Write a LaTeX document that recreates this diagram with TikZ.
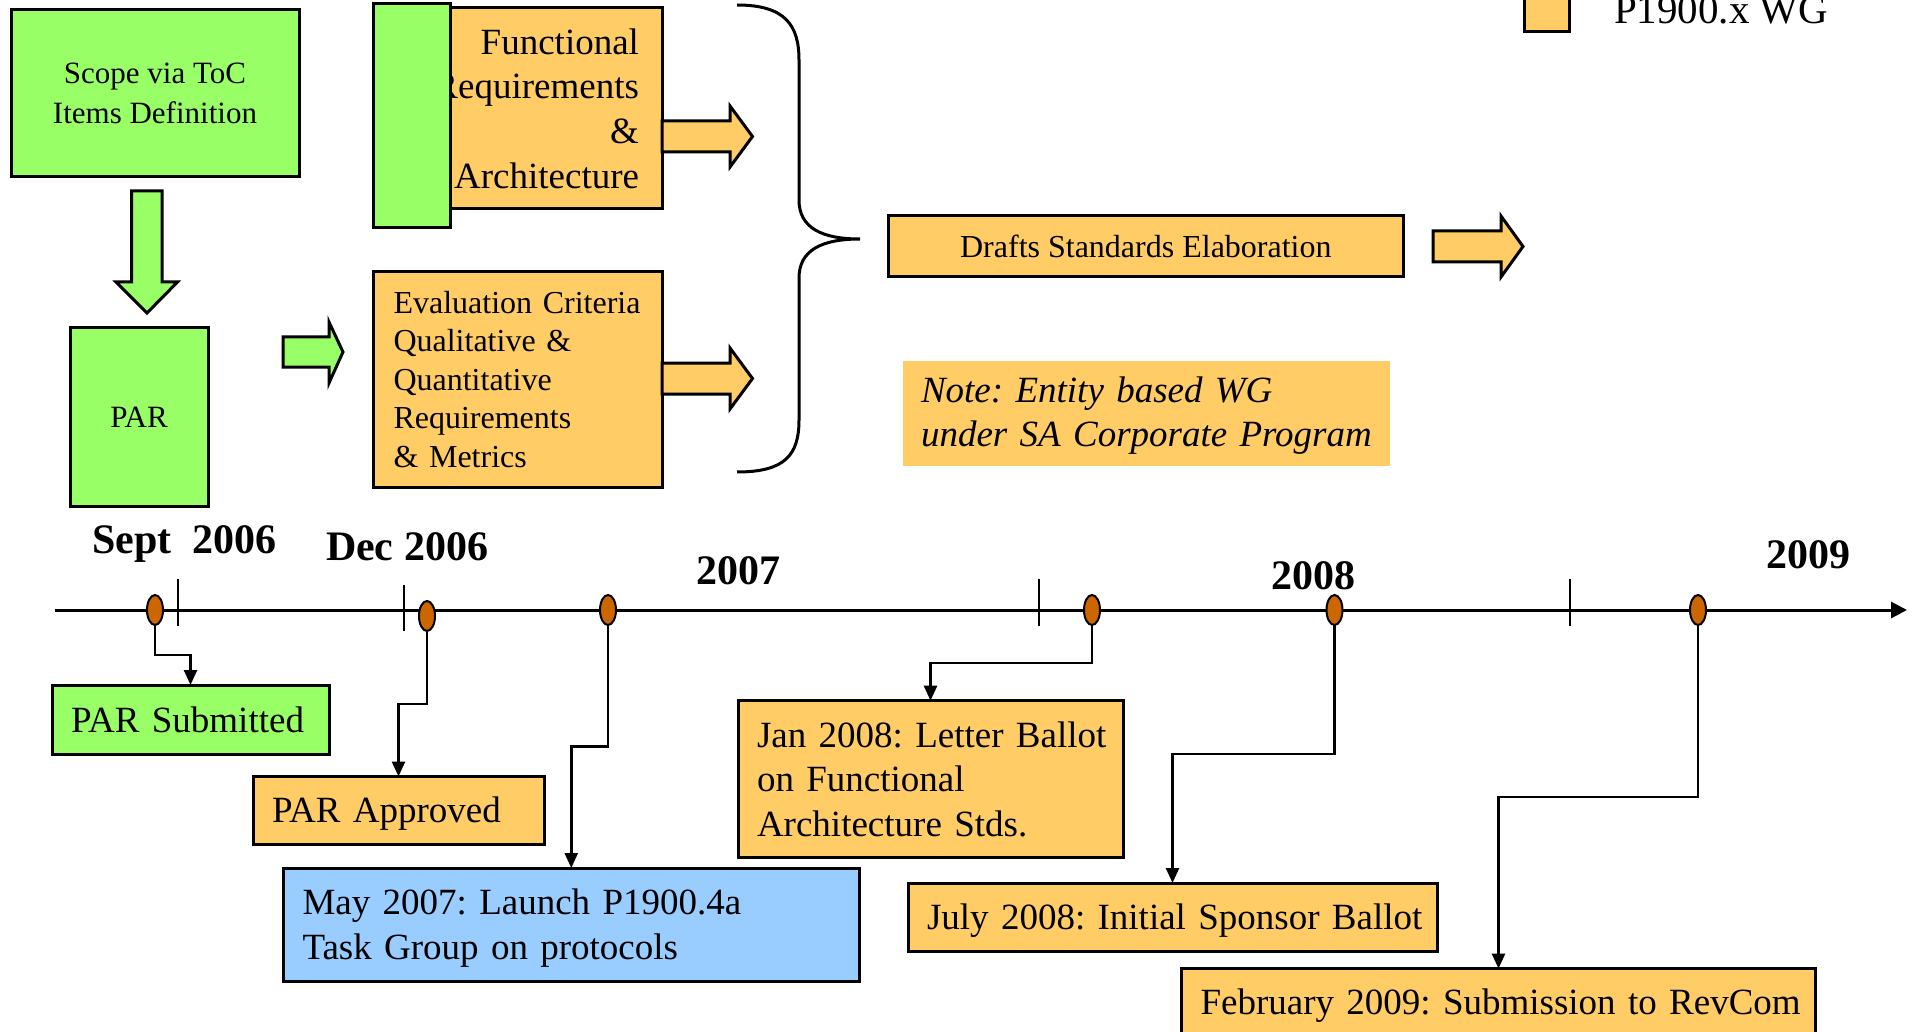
\documentclass[tikz,border=0pt]{standalone}
\usepackage{fontspec}
\setmainfont{Liberation Serif}
\usetikzlibrary{arrows.meta,calc,shapes.geometric}

\definecolor{leafgreen}{HTML}{99FF66}
\definecolor{amber}{HTML}{FFCC66}
\definecolor{skyblue}{HTML}{99CCFF}
\definecolor{rust}{HTML}{CC6600}

% font size in points with a given baseline skip
\newcommand{\pxfont}[2]{\fontsize{#1}{#2}\selectfont}
% one unbreakable line of text
\newcommand{\oneline}[1]{\mbox{#1}}

\begin{document}
\frenchspacing
\begin{tikzpicture}[x=1pt,y=-1pt,
  every node/.style={outer sep=0pt},
  panel/.style={rectangle,draw=black,line width=3pt,inner sep=0pt,anchor=north west},
  greenpanel/.style={panel,fill=leafgreen},
  amberpanel/.style={panel,fill=amber},
  bluepanel/.style={panel,fill=skyblue},
  eventbox/.style={inner xsep=19pt,inner ysep=0pt,align=left,font=\pxfont{37}{44.5},text height=29pt},
  blockarrow/.style={draw=black,line width=3pt,line join=miter},
  year/.style={font=\pxfont{42}{50}\bfseries,inner sep=0pt,anchor=base west},
  milestone/.style={ellipse,draw=black,line width=2pt,fill=rust,minimum width=16pt,minimum height=30pt,inner sep=0pt},
  tickmark/.style={line width=2pt},
  link/.style={line width=2.5pt,-{Triangle[length=15pt,width=13pt]}},
]
\useasboundingbox (0,0) rectangle (1912,1032);
\clip (0,0) rectangle (1912,1032);

% ---------- upper process flow ----------
\node[greenpanel,minimum width=288pt,minimum height=167pt,align=center,font=\pxfont{31}{40}] (scope) at (11,10) {Scope via ToC\\Items Definition};

\draw[blockarrow,fill=leafgreen] (131.6,191) -- (162,191) -- (162,282) -- (177.5,282) -- (147,313) -- (116,282) -- (131.6,282) -- cycle;

\node[greenpanel,minimum width=138pt,minimum height=178pt,font=\pxfont{31}{38}] (par) at (70,328) {PAR};

\draw[blockarrow,fill=leafgreen] (283,337) -- (329,337) -- (329,322) -- (343,352) -- (329,383) -- (329,367) -- (283,367) -- cycle;

\node[amberpanel,minimum width=289pt,minimum height=201pt,text width=243pt,inner xsep=23pt,align=right,font=\pxfont{37}{44.7}] (func) at (373,8) {Functional\\Requirements\\\&\\Architecture};

\draw[line width=3pt,fill=leafgreen] (373.5,4) rectangle (450,228);

\node[amberpanel,minimum width=288.5pt,minimum height=215pt,text width=248.5pt,inner xsep=20pt,align=left,font=\pxfont{32}{38.5}] (eval) at (373.5,272) {\oneline{Evaluation Criteria}\\Qualitative \&\\Quantitative\\Requirements\\\& Metrics};

\draw[blockarrow,fill=amber] (662,121) -- (730,121) -- (730,106) -- (752.5,136.5) -- (730,167) -- (730,152) -- (662,152) -- cycle;
\draw[blockarrow,fill=amber] (662,363) -- (730,363) -- (730,348) -- (752.5,378.5) -- (730,409) -- (730,394) -- (662,394) -- cycle;

% curly brace gathering both branches
\draw[line width=3pt] (737,5) .. controls (785,5) and (799,25) .. (799,60) -- (799,200)
  .. controls (799,228) and (822,239) .. (860,239)
  .. controls (822,239) and (799,250) .. (799,278) -- (799,420)
  .. controls (799,455) and (785,472) .. (737,472);

\node[amberpanel,minimum width=514.5pt,minimum height=61pt,font=\pxfont{32}{38}] (drafts) at (888.6,216) {Drafts Standards Elaboration};

\draw[blockarrow,fill=amber] (1433,231) -- (1501,231) -- (1501,216) -- (1523,246.5) -- (1501,277) -- (1501,262) -- (1433,262) -- cycle;

\node[rectangle,fill=amber,anchor=north west,minimum width=487pt,minimum height=105pt,text width=451pt,inner xsep=18pt,inner ysep=0pt,align=left,font=\pxfont{37}{44}\itshape,text height=26pt,text depth=48pt] (note) at (903,361) {\oneline{Note: Entity based WG}\\\oneline{under SA Corporate Program}};

% legend
\node[amberpanel,minimum width=45pt,minimum height=42pt] (key) at (1524,-10) {};
\node[anchor=base west,inner sep=0pt,font=\pxfont{41}{48}] (keytext) at (1614,24) {P1900.x WG};

% ---------- timeline ----------
\coordinate (axisstart) at (55,610);
\coordinate (axisend) at (1907,610);
\draw[line width=3pt,-{Triangle[length=16pt,width=16pt]}] (axisstart) -- (axisend);

\foreach \x/\a/\b in {177.6/579/626, 404/585/631, 1039/579/626, 1569.5/579/626}
  \draw[tickmark] (\x,\a) -- (\x,\b);

\node[milestone] (m1) at (155,610) {};
\node[milestone] (m2) at (427,616) {};
\node[milestone] (m3) at (608,610) {};
\node[milestone] (m4) at (1092,610) {};
\node[milestone] (m5) at (1334.5,610) {};
\node[milestone] (m6) at (1698,610) {};

\node[year] (ysept) at (92,553.6) {Sept\ \ 2006};
\node[year] (ydec) at (326,560) {Dec 2006};
\node[year] (y2007) at (696,584) {2007};
\node[year] (y2008) at (1271,589) {2008};
\node[year] (y2009) at (1766,568) {2009};

% milestone boxes
\node[greenpanel,eventbox,minimum width=277pt,minimum height=69pt,text width=239pt,text depth=4pt] (parsub) at (52,685) {\oneline{PAR Submitted}};
\node[amberpanel,eventbox,minimum width=291pt,minimum height=67.5pt,text width=253pt,text depth=4pt] (parapp) at (253,776.5) {\oneline{PAR Approved}};
\node[bluepanel,eventbox,minimum width=575.5pt,minimum height=113pt,text width=537.5pt,text depth=48.5pt] (may) at (283.5,868) {\oneline{May 2007: Launch P1900.4a}\\\oneline{Task Group on protocols}};
\node[amberpanel,eventbox,minimum width=385pt,minimum height=157pt,text width=347pt,text depth=93pt] (jan) at (738,700.7) {\oneline{Jan 2008: Letter Ballot}\\\oneline{on Functional}\\\oneline{Architecture Stds.}};
\node[amberpanel,eventbox,minimum width=529pt,minimum height=68.5pt,text width=491pt,text depth=4pt] (july) at (908,883) {\oneline{July 2008: Initial Sponsor Ballot}};
\node[amberpanel,eventbox,minimum width=634pt,minimum height=66pt,text width=596pt,text depth=4pt] (feb) at (1181.5,968.6) {\oneline{February 2009: Submission to RevCom}};

% elbow links from milestones to their boxes
\draw[link] (m1.south) |- ($(m1.south)!.5!(parsub.north)$) -| (parsub.north);
\draw[link] (m2.south) |- ($(m2.south)!.5!(parapp.north)$) -| (parapp.north);
\draw[link] (m3.south) |- ($(m3.south)!.5!(may.north)$) -| (may.north);
\draw[link] (m4.south) |- ($(m4.south)!.5!(jan.north)$) -| (jan.north);
\draw[link] (m5.south) |- ($(m5.south)!.5!(july.north)$) -| (july.north);
\draw[link] (m6.south) |- ($(m6.south)!.5!(feb.north)$) -| (feb.north);
\end{tikzpicture}
\end{document}
